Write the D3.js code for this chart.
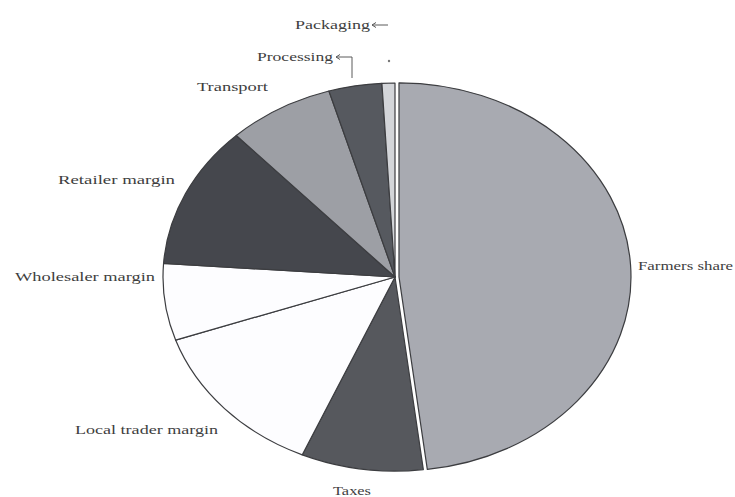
<!DOCTYPE html>
<html>
<head>
<meta charset="utf-8">
<script src="https://cdn.jsdelivr.net/npm/d3@7"></script>
<style>
  html, body { margin: 0; padding: 0; background: #ffffff; }
  svg { display: block; }
  text { font-family: "Liberation Serif", "DejaVu Serif", serif; font-size: 12px; fill: #3e3e3e; }
</style>
</head>
<body>
<svg id="chart" width="735" height="497"></svg>
<script>
// Shares of the consumer price, clockwise from twelve o'clock (%)
const categories = ["Farmers share", "Taxes", "Local trader margin", "Wholesaler margin",
                    "Retailer margin", "Transport", "Processing", "Packaging"];
const shares = [48.1, 8.5, 13.2, 6.4, 11.9, 7.4, 3.7, 0.9];
const sliceColors = ["#a8aab1", "#56585d", "#fdfdff", "#fdfdff",
                     "#45474d", "#9d9fa5", "#56595f", "#d3d5d9"];

// Label placement: anchor point and rendered width of each label
const labelLayout = [
  { x: 638, y: 270, w: 95 },   // Farmers share
  { x: 333, y: 495, w: 38 },   // Taxes
  { x: 75,  y: 434, w: 143 },  // Local trader margin
  { x: 15,  y: 281, w: 140 },  // Wholesaler margin
  { x: 58,  y: 184, w: 117 },  // Retailer margin
  { x: 197, y: 91,  w: 71 },   // Transport
  { x: 257, y: 61,  w: 76 },   // Processing
  { x: 295, y: 29,  w: 75 }    // Packaging
];

const svg = d3.select("#chart");
const cx = 395, cy = 277, rx = 232, ry = 194;

const pie = d3.pie().sort(null).value(d => d.value).startAngle(0).endAngle(2 * Math.PI);
const arcs = pie(categories.map((c, i) => ({ name: c, value: shares[i], color: sliceColors[i] })));
const arc = d3.arc().innerRadius(0).outerRadius(rx);

// The pie is drawn as a circle and squashed vertically into an ellipse
const g = svg.append("g").attr("transform", `translate(${cx},${cy}) scale(1,${ry / rx})`);

g.selectAll("path")
  .data(arcs)
  .join("path")
  .attr("d", arc)
  .attr("transform", (d, i) => {
    if (i !== 0) return null;
    // farmers' slice pulled slightly out from the centre
    const mid = (d.startAngle + d.endAngle) / 2, off = 4;
    return `translate(${Math.sin(mid) * off},${-Math.cos(mid) * off})`;
  })
  .attr("fill", d => d.data.color)
  .attr("stroke", "#3c3d40")
  .attr("stroke-width", 1.2)
  .attr("stroke-linejoin", "round")
  .attr("vector-effect", "non-scaling-stroke");

// Category labels
svg.selectAll("text.lbl")
  .data(categories)
  .join("text")
  .attr("class", "lbl")
  .attr("x", (d, i) => labelLayout[i].x)
  .attr("y", (d, i) => labelLayout[i].y)
  .attr("textLength", (d, i) => labelLayout[i].w)
  .attr("lengthAdjust", "spacingAndGlyphs")
  .text(d => d);

// Short arrow leaders for the two smallest slices
const leaders = svg.append("g").attr("stroke", "#5a5a5a").attr("stroke-width", 1).attr("fill", "none");
leaders.append("path").attr("d", "M372,25 H388 M372,25 l4,-2.5 M372,25 l4,2.5");
leaders.append("path").attr("d", "M336,57 H352 V78 M336,57 l4,-2.5 M336,57 l4,2.5");
svg.append("circle").attr("cx", 389).attr("cy", 61).attr("r", 1.2).attr("fill", "#777");
</script>
</body>
</html>
